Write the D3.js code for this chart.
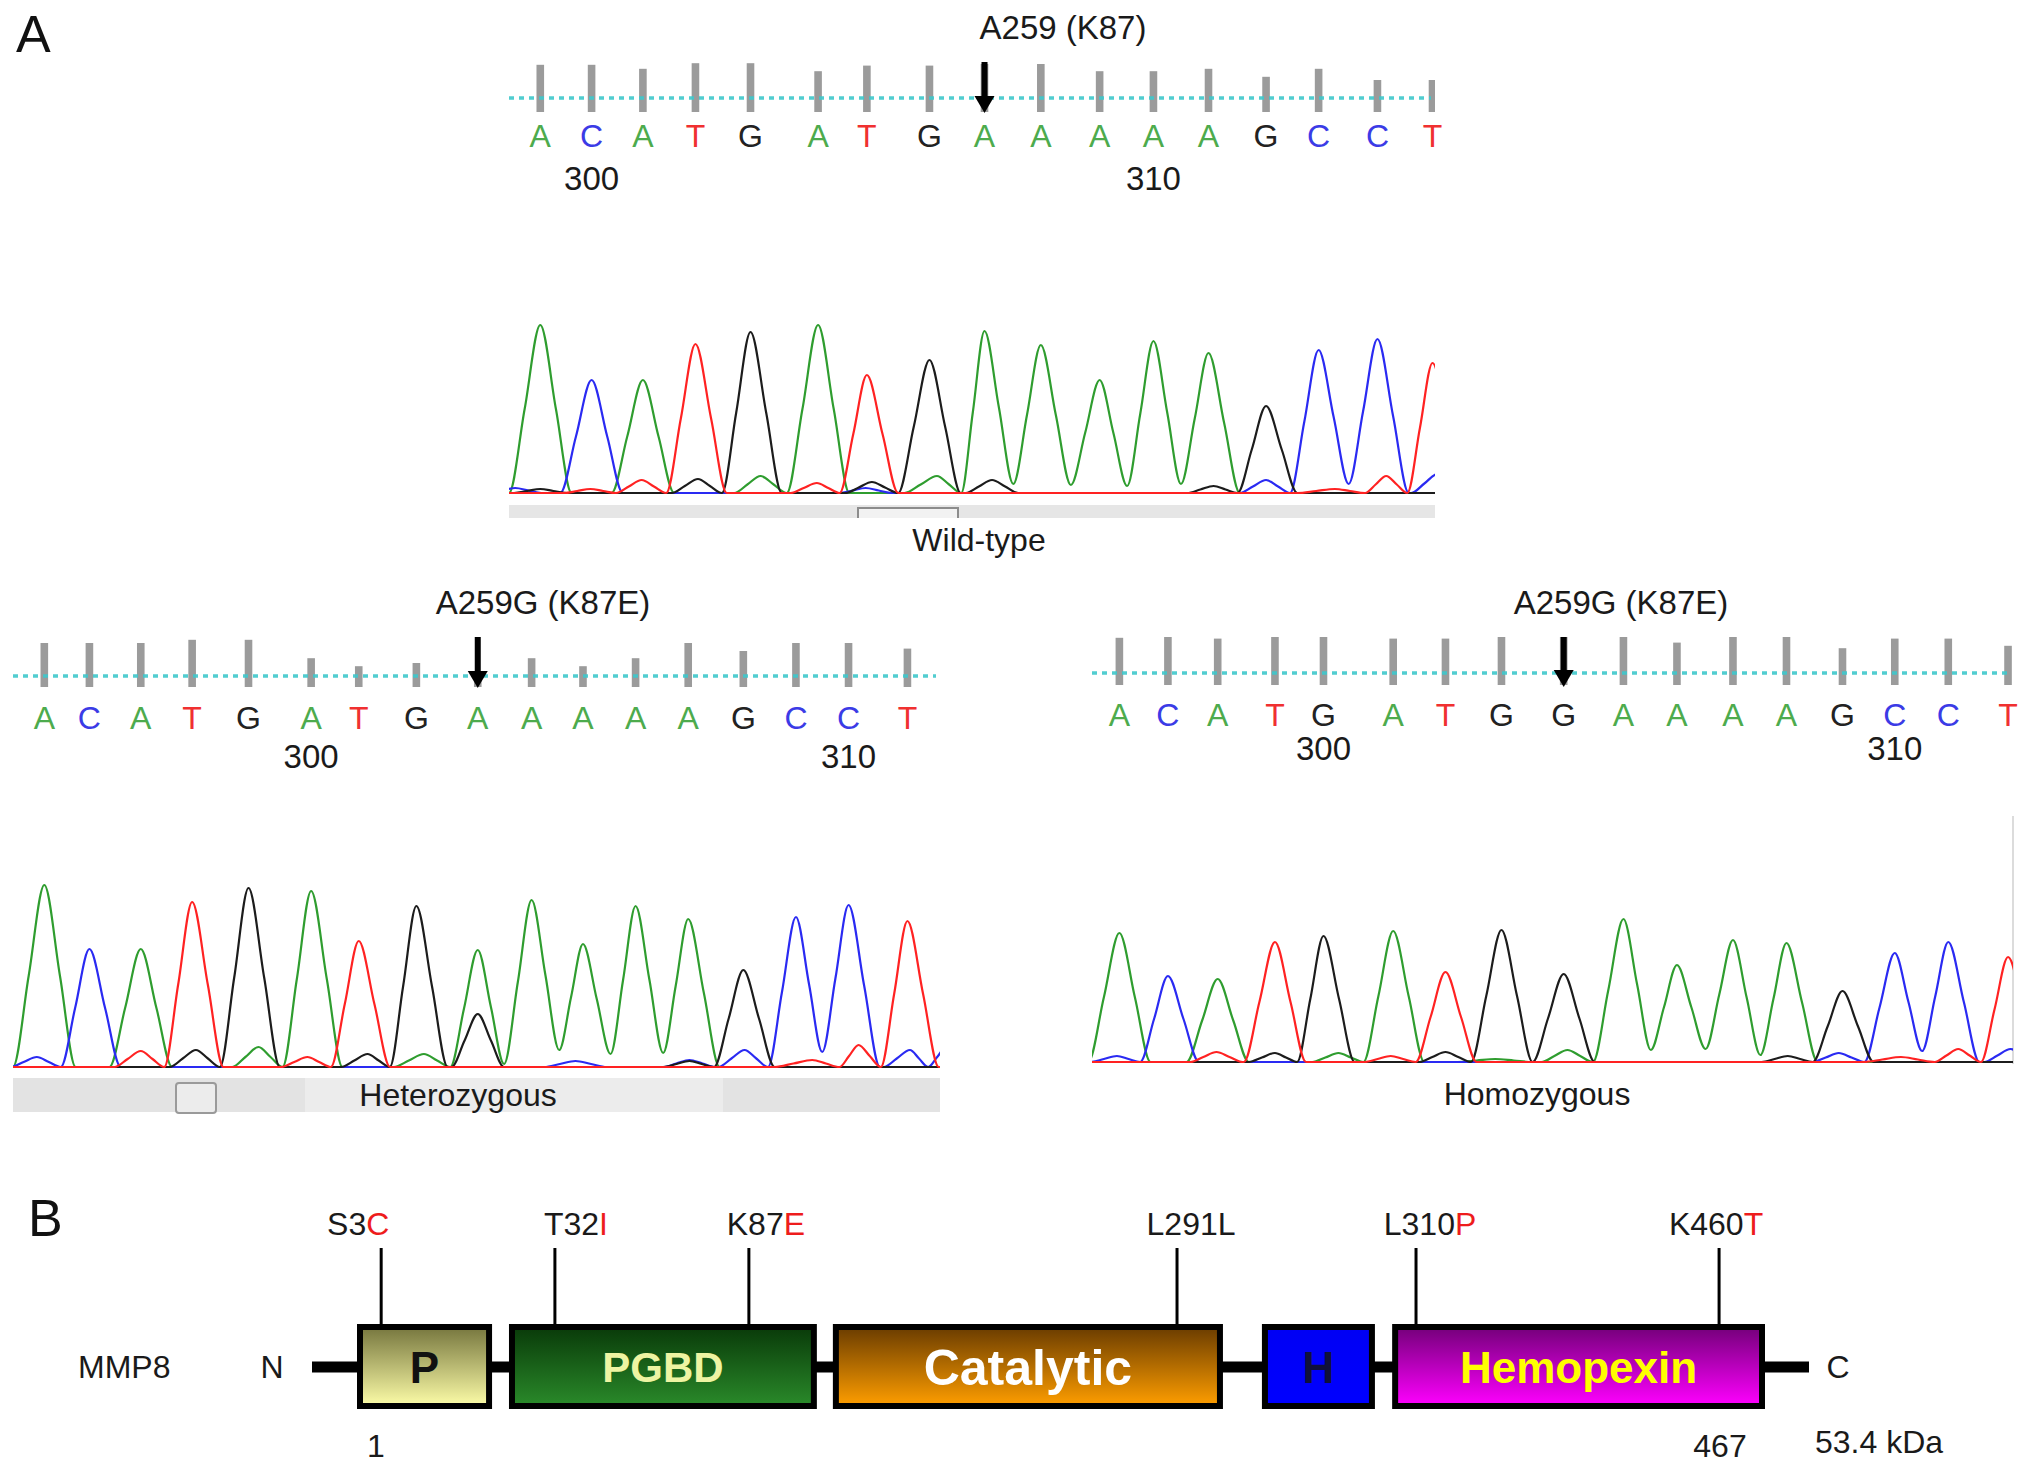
<!DOCTYPE html>
<html>
<head>
<meta charset="utf-8">
<script src="https://cdn.jsdelivr.net/npm/d3@7"></script>
<style>
  body { margin: 0; background: #fff; }
  svg { display: block; }
  text { font-family: "Liberation Sans", Arial, Helvetica, sans-serif; }
</style>
</head>
<body>
<div id="chart"></div>
<script>
// ---- data ----
// base calls (scan positions, quality values, peak heights in signal units)
var wtBases  = ['A','C','A','T','G','A','T','G','A','A','A','A','A','G','C','C','T'];
var hetBases = ['A','C','A','T','G','A','T','G','A','A','A','A','A','G','C','C','T'];
var homBases = ['A','C','A','T','G','A','T','G','G','A','A','A','A','G','C','C','T'];

var wtPos  = [25, 66, 107, 149, 193, 247, 286, 336, 380, 425, 472, 515, 559, 605, 647, 694, 738];
var hetPos = [25, 61, 102, 143, 188, 238, 276, 322, 371, 414, 455, 497, 539, 583, 625, 667, 714];
var homPos = [22, 61, 101, 147, 186, 242, 284, 329, 379, 427, 470, 515, 558, 603, 645, 688, 736];

var wtQual  = [59, 59, 54, 61, 61, 51, 58, 58, 60, 60, 51, 51, 54, 44, 54, 40, 40];
var hetQual = [55, 55, 55, 59, 59, 36, 26, 30, 9, 36, 26, 36, 55, 45, 55, 55, 48];
var homQual = [59, 60, 58, 60, 60, 58, 58, 60, 60, 60, 53, 60, 60, 46, 58, 58, 49];

var wtHeight  = [1680, 1130, 1130, 1490, 1610, 1680, 1180, 1330, 1620, 1480, 1130, 1520, 1400, 870, 1430, 1540, 1300];
var hetHeight = [1820, 1180, 1180, 1650, 1790, 1760, 1260, 1610, 1170, 1670, 1230, 1610, 1480, 970, 1500, 1620, 1460];
var homHeight = [1290, 860, 830, 1200, 1260, 1310, 900, 1320, 880, 1430, 970, 1220, 1190, 710, 1090, 1200, 1050];

// secondary peaks [scan, base, height, halfwidth]
var wtMinor = [[5,'C',50],[25,'G',40],[65,'T',40],[106,'T',130],[151,'G',140],[201,'A',170],
  [246,'T',100],[285,'C',50],[290,'G',110],[342,'A',170,26],[386,'G',130],[563,'G',70],
  [605,'C',130],[660,'T',40,30],[701,'T',170],[742,'C',190]];
var hetMinor = [[19,'C',100],[102,'T',160],[146,'G',170],[196,'A',200],[235,'T',100],[283,'G',130],
  [328,'A',130,24],[371,'G',530],[449,'C',60,25],[540,'C',70],[540,'G',60],[584,'C',170],
  [638,'T',70,30],[675,'T',220],[716,'C',170],[745,'C',200]];
var homMinor = [[20,'C',60],[100,'T',100],[147,'G',90],[198,'A',90],[240,'T',60],[284,'G',100],
  [324,'A',30,30],[382,'A',120],[559,'G',60],[600,'C',90],[650,'T',50,30],[696,'T',130],[738,'C',130]];

// troughs between neighbouring peaks of the same base [scan, base, height]
var wtValleys  = [[403,'A',90],[449,'A',80],[494,'A',70],[537,'A',90],[671,'C',90]];
var hetValleys = [[392,'A',30],[436,'A',170],[477,'A',130],[519,'A',140],[646,'C',150]];
var homValleys = [[449,'A',120],[493,'A',130],[537,'A',70],[667,'C',110]];

// sequence position ticks [base index, label]
var wtTicks  = [[1,'300'],[11,'310']];
var hetTicks = [[5,'300'],[15,'310']];
var homTicks = [[4,'300'],[14,'310']];

// panel B: MMP8 schematic (drawn positions, not to scale)
var domainNames = ['P', 'PGBD', 'Catalytic', 'H', 'Hemopexin'];
var domainStart = [1, 51.3, 158.5, 300.5, 343.6];
var domainEnd   = [45.7, 153.2, 287.6, 337.9, 467];
var mutRef  = ['S3', 'T32', 'K87', 'L291', 'L310', 'K460'];
var mutAlt  = ['C', 'I', 'E', 'L', 'P', 'T'];
var mutNew  = [true, true, true, false, true, true];
var mutSite = [9, 66.5, 130.7, 272.4, 351.5, 451.8];

// ---- layout & styles ----
var WIDTH = 2032, HEIGHT = 1471;
var BASE_COLORS  = {A: '#4dab4d', C: '#3b3be6', G: '#222222', T: '#f03030'};
var TRACE_COLORS = {A: '#2f9d2f', C: '#2a2af2', G: '#1c1c1c', T: '#ff2222'};
var TRACE_ORDER = ['A', 'C', 'G', 'T'];
var MAJOR_HW = 25, MINOR_HW = 21;

var svg = d3.select('#chart').append('svg').attr('width', WIDTH).attr('height', HEIGHT);
var defs = svg.append('defs');

svg.append('text').attr('x', 16).attr('y', 52).style('font-size', '52px').attr('fill', '#111').text('A');
svg.append('text').attr('x', 28).attr('y', 1236).style('font-size', '52px').attr('fill', '#111').text('B');

var panels = [
  {key: 'wt', bases: wtBases, pos: wtPos, qual: wtQual, height: wtHeight, minor: wtMinor, valleys: wtValleys, ticks: wtTicks,
   left: 509, right: 1435, title: 'A259 (K87)', titleX: 1063, titleY: 39, arrowTop: 62, arrowBottom: 113,
   dotY: 98, barBottom: 112, letterY: 147, numY: 190, base: 493, label: 'Wild-type', labelX: 979, labelY: 551, scroll: 'wt'},
  {key: 'het', bases: hetBases, pos: hetPos, qual: hetQual, height: hetHeight, minor: hetMinor, valleys: hetValleys, ticks: hetTicks,
   left: 13, right: 940, title: 'A259G (K87E)', titleX: 543, titleY: 614, arrowTop: 637, arrowBottom: 688,
   dotY: 676, barBottom: 687, letterY: 729, numY: 768, base: 1067, label: 'Heterozygous', labelX: 458, labelY: 1106, scroll: 'het'},
  {key: 'hom', bases: homBases, pos: homPos, qual: homQual, height: homHeight, minor: homMinor, valleys: homValleys, ticks: homTicks,
   left: 1092, right: 2013, title: 'A259G (K87E)', titleX: 1621, titleY: 614, arrowTop: 637, arrowBottom: 687,
   dotY: 673, barBottom: 685, letterY: 726, numY: 760, base: 1062, label: 'Homozygous', labelX: 1537, labelY: 1105, scroll: 'hom'}
];

// knots of one channel: foot - flank - apex - flank - foot per peak, troughs where given
function channelKnots(ch, p) {
    var peaks = [];
    p.bases.forEach(function(b, i) {
        if (b === ch) peaks.push({x: p.pos[i], h: p.height[i], w: MAJOR_HW});
    });
    p.minor.forEach(function(m) {
        if (m[1] === ch) peaks.push({x: m[0], h: m[2], w: m[3] || MINOR_HW});
    });
    var valleys = p.valleys.filter(function(v) { return v[1] === ch; });
    peaks.sort(function(a, b) { return a.x - b.x; });
    var pts = [{x: -60, y: 0}];
    peaks.forEach(function(pk, i) {
        var prev = peaks[i - 1];
        if (prev) {
            var v = valleys.filter(function(v) { return v[0] > prev.x && v[0] < pk.x; })[0];
            if (v) pts.push({x: v[0], y: v[2]});
            else if (prev.x + prev.w >= pk.x - pk.w) pts.push({x: (prev.x * pk.w + pk.x * prev.w) / (prev.w + pk.w), y: 0});
            else { pts.push({x: prev.x + prev.w, y: 0}); pts.push({x: pk.x - pk.w, y: 0}); }
        } else {
            pts.push({x: pk.x - pk.w, y: 0});
        }
        pts.push({x: pk.x, y: pk.h, apex: true});
    });
    var last = peaks[peaks.length - 1];
    pts.push({x: last.x + last.w, y: 0});
    pts.push({x: 800, y: 0});
    // half-height flank knots give the near-straight sides of the peaks
    var out = [];
    pts.forEach(function(d, i) {
        var n = pts[i + 1];
        out.push([d.x, d.y]);
        if (n && (d.apex !== n.apex)) out.push([(d.x + n.x) / 2, (d.y + n.y) / 2]);
    });
    return out;
}

function drawRead(p) {
    var g = svg.append('g').attr('class', 'read-' + p.key);
    var x = d3.scaleLinear().domain([0, 740]).range([p.left, p.right]);
    var qy = d3.scaleLinear().domain([0, 60]).range([0, 48]);
    var y = d3.scaleLinear().domain([0, 1000]).range([p.base, p.base - 100]);
    var clipId = 'clip-' + p.key;
    defs.append('clipPath').attr('id', clipId).append('rect')
        .attr('x', p.left).attr('y', 0).attr('width', p.right - p.left).attr('height', HEIGHT);

    g.append('text').attr('x', p.titleX).attr('y', p.titleY).attr('text-anchor', 'middle')
        .style('font-size', '33px').attr('fill', '#1a1a1a').text(p.title);

    // quality bars
    g.append('g').attr('clip-path', 'url(#' + clipId + ')')
        .selectAll('rect').data(p.qual).enter().append('rect')
        .attr('x', function(d, i) { return x(p.pos[i]) - 3.8; })
        .attr('width', 7.6)
        .attr('y', function(d) { return p.barBottom - qy(d); })
        .attr('height', function(d) { return qy(d); })
        .attr('fill', '#9b9b9b');

    g.append('line').attr('x1', p.left).attr('x2', p.right - 4).attr('y1', p.dotY).attr('y2', p.dotY)
        .attr('stroke', '#3fc8cc').attr('stroke-width', 3.5).attr('stroke-dasharray', '5,5').attr('opacity', 0.9);

    // arrow at the variant base
    var ax = x(p.pos[8]);
    g.append('rect').attr('x', ax - 3).attr('y', p.arrowTop).attr('width', 6).attr('height', p.arrowBottom - p.arrowTop - 15).attr('fill', '#000');
    g.append('path').attr('d', 'M' + (ax - 10) + ',' + (p.arrowBottom - 17) + 'L' + (ax + 10) + ',' + (p.arrowBottom - 17) + 'L' + ax + ',' + p.arrowBottom + 'Z').attr('fill', '#000');

    g.selectAll('text.base').data(p.bases).enter().append('text').attr('class', 'base')
        .attr('x', function(d, i) { return x(p.pos[i]); })
        .attr('y', p.letterY).attr('text-anchor', 'middle').style('font-size', '32px')
        .attr('fill', function(d) { return BASE_COLORS[d]; })
        .text(function(d) { return d; });

    g.selectAll('text.tick').data(p.ticks).enter().append('text').attr('class', 'tick')
        .attr('x', function(d) { return x(p.pos[d[0]]); })
        .attr('y', p.numY).attr('text-anchor', 'middle').style('font-size', '33px').attr('fill', '#1a1a1a')
        .text(function(d) { return d[1]; });

    // scroll strip under the trace
    if (p.scroll === 'wt') {
        g.append('rect').attr('x', p.left).attr('y', p.base + 12).attr('width', p.right - p.left).attr('height', 13).attr('fill', '#e6e6e6');
        g.append('path').attr('d', 'M858,' + (p.base + 25) + 'V' + (p.base + 15) + 'H958V' + (p.base + 25))
            .attr('fill', '#f2f2f2').attr('stroke', '#8c8c8c').attr('stroke-width', 2);
    } else if (p.scroll === 'het') {
        g.append('rect').attr('x', p.left).attr('y', p.base + 11).attr('width', p.right - p.left).attr('height', 34).attr('fill', '#e3e3e3');
        g.append('rect').attr('x', 305).attr('y', p.base + 11).attr('width', 418).attr('height', 34).attr('fill', '#ececec');
        g.append('rect').attr('x', 176).attr('y', p.base + 16).attr('width', 40).attr('height', 30).attr('rx', 3)
            .attr('fill', '#ececec').attr('stroke', '#9a9a9a').attr('stroke-width', 2);
    } else {
        g.append('line').attr('x1', p.right).attr('x2', p.right).attr('y1', p.base - 246).attr('y2', p.base + 2)
            .attr('stroke', '#dcdcdc').attr('stroke-width', 2);
    }

    var line = d3.line()
        .x(function(d) { return x(d[0]); })
        .y(function(d) { return y(d[1]); })
        .curve(d3.curveMonotoneX);
    var traces = g.append('g').attr('clip-path', 'url(#' + clipId + ')');
    TRACE_ORDER.forEach(function(ch) {
        traces.append('path').datum(channelKnots(ch, p)).attr('d', line)
            .attr('fill', 'none').attr('stroke', TRACE_COLORS[ch]).attr('stroke-width', 2.2)
            .attr('stroke-linejoin', 'round');
    });

    g.append('text').attr('x', p.labelX).attr('y', p.labelY).attr('text-anchor', 'middle')
        .style('font-size', '32px').attr('fill', '#1a1a1a').text(p.label);
}

panels.forEach(drawRead);

// ---- panel B ----
var sx = d3.scaleLinear().domain([1, 467]).range([357, 1765]);
var boxTop = 1324, boxBottom = 1409, midY = 1367;
var domainGrad = [['#76763e', '#fdfda8'], ['#093a09', '#2a8a2a'], ['#6a3c00', '#ff9e00'], ['#0000f4', '#0000ff'], ['#74007a', '#ff00ff']];
var domainInk = ['#111111', '#eef4a2', '#ffffff', '#10103a', '#ffff00'];
var domainSize = [44, 42, 50, 44, 44];
var mutLabelDx = [-23, 21, 17, 14, 14, -3];

domainGrad.forEach(function(c, i) {
    var lg = defs.append('linearGradient').attr('id', 'dom' + i).attr('x1', 0).attr('y1', 0).attr('x2', 0).attr('y2', 1);
    lg.append('stop').attr('offset', '0%').attr('stop-color', c[0]);
    lg.append('stop').attr('offset', '100%').attr('stop-color', c[1]);
});

var gb = svg.append('g').attr('class', 'schematic');
gb.append('line').attr('x1', sx(1) - 45).attr('x2', sx(467) + 44).attr('y1', midY).attr('y2', midY)
    .attr('stroke', '#000').attr('stroke-width', 11);

gb.selectAll('line.stem').data(mutSite).enter().append('line').attr('class', 'stem')
    .attr('x1', function(d) { return sx(d); }).attr('x2', function(d) { return sx(d); })
    .attr('y1', 1248).attr('y2', boxTop + 2).attr('stroke', '#000').attr('stroke-width', 3);

var boxes = gb.selectAll('g.dom').data(domainNames).enter().append('g').attr('class', 'dom');
boxes.append('rect')
    .attr('x', function(d, i) { return sx(domainStart[i]) + 3; })
    .attr('width', function(d, i) { return sx(domainEnd[i]) - sx(domainStart[i]) - 6; })
    .attr('y', boxTop + 3).attr('height', boxBottom - boxTop - 6)
    .attr('fill', function(d, i) { return 'url(#dom' + i + ')'; })
    .attr('stroke', '#000').attr('stroke-width', 6);
boxes.append('text')
    .attr('x', function(d, i) { return (sx(domainStart[i]) + sx(domainEnd[i])) / 2; })
    .attr('y', function(d, i) { return midY + domainSize[i] * 0.36; })
    .attr('text-anchor', 'middle').style('font-weight', 'bold')
    .style('font-size', function(d, i) { return domainSize[i] + 'px'; })
    .attr('fill', function(d, i) { return domainInk[i]; })
    .text(function(d) { return d; });

var labels = gb.selectAll('text.mut').data(mutRef).enter().append('text').attr('class', 'mut')
    .attr('x', function(d, i) { return sx(mutSite[i]) + mutLabelDx[i]; })
    .attr('y', 1235).attr('text-anchor', 'middle').style('font-size', '32px');
labels.append('tspan').attr('fill', '#1a1a1a').text(function(d) { return d; });
labels.append('tspan').attr('fill', function(d, i) { return mutNew[i] ? '#ee1c1c' : '#1a1a1a'; })
    .text(function(d, i) { return mutAlt[i]; });

gb.append('text').attr('x', 78).attr('y', 1378).style('font-size', '32px').attr('fill', '#1a1a1a').text('MMP8');
gb.append('text').attr('x', 272).attr('y', 1378).attr('text-anchor', 'middle').style('font-size', '32px').attr('fill', '#1a1a1a').text('N');
gb.append('text').attr('x', 1838).attr('y', 1378).attr('text-anchor', 'middle').style('font-size', '32px').attr('fill', '#1a1a1a').text('C');
gb.append('text').attr('x', sx(1) + 19).attr('y', 1457).attr('text-anchor', 'middle').style('font-size', '32px').attr('fill', '#1a1a1a').text('1');
gb.append('text').attr('x', sx(467) - 45).attr('y', 1457).attr('text-anchor', 'middle').style('font-size', '32px').attr('fill', '#1a1a1a').text('467');
gb.append('text').attr('x', 1815).attr('y', 1453).style('font-size', '32px').attr('fill', '#1a1a1a').text('53.4 kDa');
</script>
</body>
</html>
